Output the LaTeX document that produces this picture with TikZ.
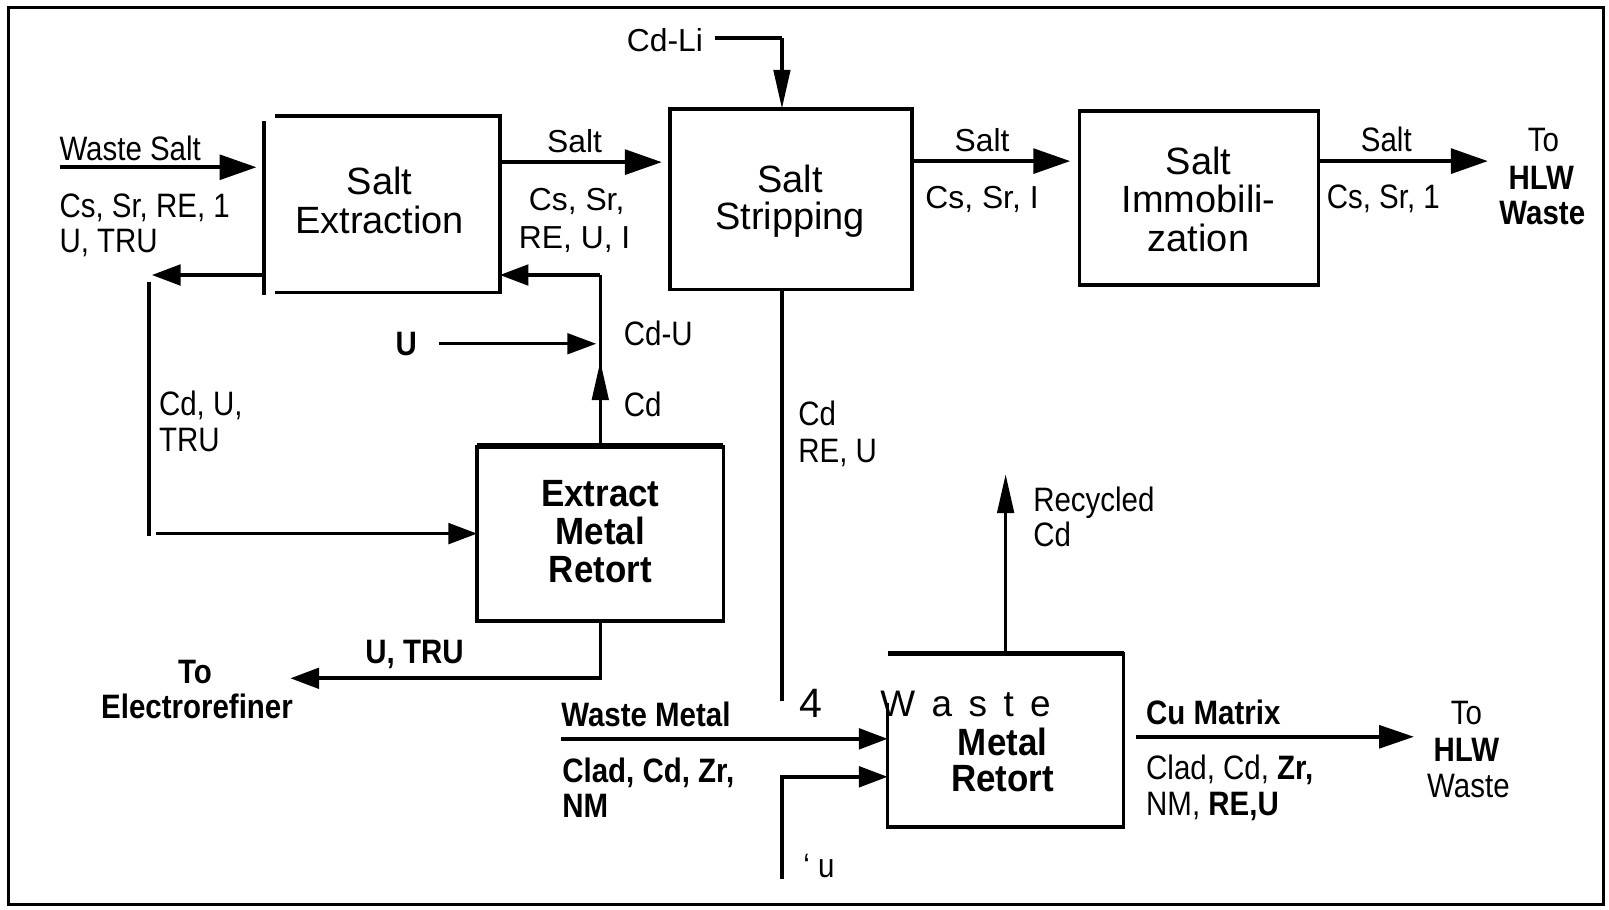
\documentclass[tikz,border=0pt]{standalone}
\usepackage{fontspec}
\setmainfont{Liberation Sans}
\newfontfamily\lblfont[FakeStretch=0.87]{Liberation Sans}
\newfontfamily\boxfont[FakeStretch=0.92]{Liberation Sans}
\newfontfamily\widefont{Liberation Sans}
\usetikzlibrary{arrows.meta}
\tikzset{
  lab/.style={font={\lblfont\fontsize{33}{33}\selectfont}, inner sep=0pt, outer sep=0pt},
  blab/.style={font={\lblfont\bfseries\fontsize{33}{33}\selectfont}, inner sep=0pt, outer sep=0pt},
  wlab/.style={font={\widefont\fontsize{31}{31}\selectfont}, inner sep=0pt, outer sep=0pt},
  boxlab/.style={font={\widefont\fontsize{37}{37}\selectfont}, inner sep=0pt, outer sep=0pt},
  bboxlab/.style={font={\boxfont\bfseries\fontsize{37}{37}\selectfont}, inner sep=0pt, outer sep=0pt},
  procbox/.style={inner sep=0pt, outer sep=0pt},
  boxline/.style={line width=3.5pt, line join=miter},
  wire/.style={line width=3.5pt},
  flowbig/.style={line width=4pt, -{Triangle[length=36pt,width=24pt]}},
  flowmid/.style={line width=3.5pt, -{Triangle[length=28pt,width=20pt]}},
  flowslim/.style={line width=3.5pt, -{Triangle[length=38pt,width=16pt]}},
}
\begin{document}
\begin{tikzpicture}[x=1pt,y=-1pt]
\useasboundingbox (0,0) rectangle (1568,886);
\fill[white] (0,0) rectangle (1568,886);
\draw[line width=3pt] (8,7) rectangle (1563,881);

% ---------- Salt Extraction
\node[procbox, minimum width=219pt, minimum height=172pt] (se) at (377.5,199) {};
\draw[boxline] (se.north west) -- (se.north east) -- (se.south east) -- (se.south west);
\coordinate (sebarT) at (257,118);
\coordinate (sebarB) at (257,287);
\draw[boxline] (sebarT) -- (sebarB);
\node[boxlab, anchor=base] (se1) at (370,190) {Salt};
\node[boxlab, anchor=base] (se2) at (370,228) {Extraction};

% Waste salt input
\coordinate (wsA) at (58,163);
\coordinate (wsB) at (250,163);
\draw[flowbig] (wsA) -- (wsB);
\node[lab, anchor=base west] (wsl) at (58,156) {Waste Salt};
\node[lab, anchor=base west] (wsl2) at (58,212) {Cs, Sr, RE, 1};
\node[lab, anchor=base west] (wsl3) at (58,246) {U, TRU};

% return to left
\coordinate (retA) at (257,268);
\coordinate (retB) at (148,268);
\draw[flowmid] (retA) -- (retB);
\coordinate (vT) at (145,275);
\coordinate (vB) at (145,522);
\draw[wire] (vT) -- (vB);
\node[lab, anchor=base west] (cdu1) at (155,405) {Cd, U,};
\node[lab, anchor=base west] (cdu2) at (155,440) {TRU};

% ---------- Extract Metal Retort
\node[procbox, draw, line width=3.5pt, minimum width=240pt, minimum height=170pt] (emr) at (585,520) {};
\draw[line width=6pt] (emr.north west) -- (emr.north east);
\node[bboxlab, anchor=base] (emr1) at (585,494) {Extract};
\node[bboxlab, anchor=base] (emr2) at (585,531) {Metal};
\node[bboxlab, anchor=base] (emr3) at (585,568) {Retort};

\coordinate (toemr) at (152,520);
\draw[flowmid] (toemr) -- (emr.west |- toemr);

% Cd up to salt extraction
\coordinate (cdj) at (585,268);
\draw[wire] (emr.north) -- (cdj);
\draw[flowmid] (cdj) -- (se.east |- cdj);
\coordinate (cdtip) at (585,352);
\draw[flowslim] (emr.north) -- (cdtip);
\node[lab, anchor=base west] (cdl) at (608,406) {Cd};
\node[lab, anchor=base west] (cdul) at (608,337) {Cd-U};

% U input
\node[blab, anchor=base] (ul) at (396,346) {U};
\coordinate (uA) at (428,335);
\coordinate (uB) at (581,335);
\draw[flowmid, line width=3pt] (uA) -- (uB);

% to electrorefiner
\coordinate (emrb) at (585,661);
\coordinate (toER) at (283,661);
\draw[flowmid] (emr.south) -- (emrb) -- (toER);
\node[blab, anchor=base] (utru) at (404,647) {U, TRU};
\node[blab, anchor=base] (toe1) at (190,666) {To};
\node[blab, anchor=base] (toe2) at (192,700) {Electrorefiner};

% ---------- Salt Stripping
\node[procbox, draw, line width=3.5pt, minimum width=236pt, minimum height=176pt] (ss) at (771,194) {};
\node[boxlab, anchor=base] (ss1) at (770,188) {Salt};
\node[boxlab, anchor=base] (ss2) at (770,224) {Stripping};

\coordinate (s1A) at (487,158);
\coordinate (s1B) at (645,158);
\draw[flowbig] (s1A) -- (s1B);
\node[wlab, anchor=base] (s1l) at (560,149) {Salt};
\node[wlab, anchor=base] (s1l2) at (562,205) {Cs, Sr,};
\node[wlab, anchor=base] (s1l3) at (560,242) {RE, U, I};

% Cd-Li
\node[wlab, anchor=base] (cdli) at (648,50) {Cd-Li};
\coordinate (cdliA) at (697,37);
\coordinate (cdliB) at (762,37);
\draw[wire] (cdliA) -- (cdliB);
\draw[flowslim] (cdliB) -- (cdliB |- ss.north);

% stripping down
\coordinate (ssd) at (762,683);
\draw[wire] (ssd |- ss.south) -- (ssd);
\node[lab, anchor=base west] (ssdl1) at (778,415) {Cd};
\node[lab, anchor=base west] (ssdl2) at (778,451) {RE, U};

% ---------- Salt Immobilization
\node[procbox, draw, line width=3.5pt, minimum width=233pt, minimum height=170pt] (si) at (1168.5,193) {};
\node[boxlab, anchor=base] (si1) at (1168,170) {Salt};
\node[boxlab, anchor=base] (si2) at (1168,207) {Immobili-};
\node[boxlab, anchor=base] (si3) at (1168,245) {zation};

\coordinate (s2A) at (889,157);
\coordinate (s2B) at (1043,157);
\draw[flowbig] (s2A) -- (s2B);
\node[wlab, anchor=base] (s2l) at (957,148) {Salt};
\node[wlab, anchor=base] (s2l2) at (957,203) {Cs, Sr, I};

\coordinate (s3A) at (1285,157);
\coordinate (s3B) at (1450,157);
\draw[flowbig] (s3A) -- (s3B);
\node[lab, anchor=base] (s3l) at (1351,148) {Salt};
\node[lab, anchor=base] (s3l2) at (1348,203) {Cs, Sr, 1};
\node[lab, anchor=base] (hlw1) at (1504,148) {To};
\node[blab, anchor=base] (hlw2) at (1502,185) {HLW};
\node[blab, anchor=base] (hlw3) at (1503,219) {Waste};

% ---------- Waste Metal Retort
\node[procbox, minimum width=230pt, minimum height=169pt] (wmr) at (980,721.5) {};
\coordinate (wmrL) at (865,685);
\draw[boxline] (wmrL) -- (wmr.south west) -- (wmr.south east) -- (wmr.north east) -- (wmr.north west);
\draw[line width=5pt] (wmr.north west) -- (wmr.north east);
\node[lab, anchor=base, font={\fontsize{40}{40}\selectfont}] (four) at (790,699) {4};
\node[lab, anchor=base west, font={\fontsize{36}{36}\selectfont\spaceskip=16pt}] (wastew) at (858,698) {W a s t e};
\node[bboxlab, anchor=base] (wmr1) at (977,736) {Metal};
\node[bboxlab, anchor=base] (wmr2) at (977,771) {Retort};

\coordinate (recT) at (980,462);
\draw[flowslim] (wmr.north) -- (recT);
\node[lab, anchor=base west] (rec1) at (1007,498) {Recycled};
\node[lab, anchor=base west] (rec2) at (1007,533) {Cd};

\coordinate (wmA) at (547,720);
\draw[flowmid] (wmA) -- (wmr.west |- wmA);
\node[blab, anchor=base west] (wml) at (547,708) {Waste Metal};
\node[blab, anchor=base west] (wml2) at (548,763) {Clad, Cd, Zr,};
\node[blab, anchor=base west] (wml3) at (548,797) {NM};

\coordinate (u2A) at (762,857);
\coordinate (u2B) at (762,757);
\draw[flowmid] (u2A) -- (u2B) -- (wmr.west |- u2B);
\node[lab, anchor=base west] (u2l) at (783,855) {‘ u};

\coordinate (cuA) at (1107,718);
\coordinate (cuB) at (1378,718);
\draw[line width=4pt, -{Triangle[length=34pt,width=22pt]}] (cuA) -- (cuB);
\node[blab, anchor=base west] (cul) at (1117,706) {Cu Matrix};
\node[lab, anchor=base west] (cul2) at (1117,760) {Clad, Cd, \textbf{Zr,}};
\node[lab, anchor=base west] (cul3) at (1117,795) {NM, \textbf{RE,U}};
\node[lab, anchor=base] (hlw4) at (1429,706) {To};
\node[blab, anchor=base] (hlw5) at (1429,742) {HLW};
\node[lab, anchor=base] (hlw6) at (1431,777) {Waste};
\end{tikzpicture}
\end{document}
